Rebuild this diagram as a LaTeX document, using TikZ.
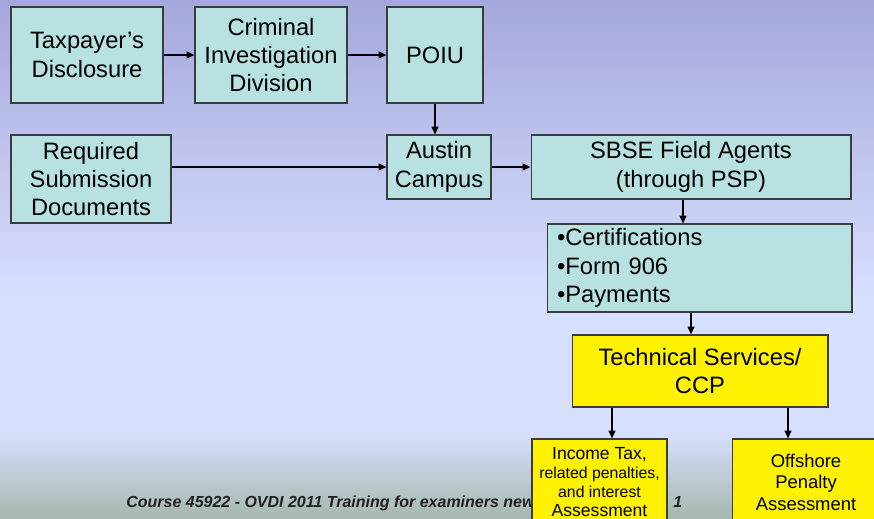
\documentclass[tikz,border=0pt]{standalone}
\usepackage{fontspec}
\setmainfont{Liberation Sans}
\usepackage{tikz}
\usetikzlibrary{arrows.meta}

\definecolor{boxteal}{HTML}{B8E2E2}
\definecolor{boxline}{HTML}{3C3C3C}
\definecolor{bgtop}{HTML}{A4A8DC}
\definecolor{bgmid}{HTML}{D8E0FF}
\definecolor{bgfoot}{HTML}{A6B8AE}

\tikzset{
    tealbox/.style={draw=boxline, line width=0.6pt, fill=boxteal, align=center,
        font=\fontsize{13.5}{16.2}\selectfont, inner sep=0pt},
    yellowbox/.style={draw=boxline, line width=0.6pt, fill=yellow, align=center, inner sep=0pt},
    flow/.style={draw=black, line width=0.6pt, -{Triangle[length=4.5pt,width=4pt]}}
}

\begin{document}
\begin{tikzpicture}[x=0.02cm, y=-0.02cm]
    \useasboundingbox (0,0) rectangle (874,518);
    % background of the slide
    \shade[top color=bgtop, bottom color=bgmid] (0,0) rectangle (874,300);
    \fill[bgmid] (0,300) rectangle (874,432);
    \shade[top color=bgmid, bottom color=bgfoot] (0,432) rectangle (874,518);

    % footer
    \node[anchor=base west, inner sep=0pt, text=black!88, font=\fontsize{9.1}{10}\selectfont\bfseries\itshape]
        (footer) at (126,507) {Course 45922 - OVDI 2011 Training for examiners new};
    \node[anchor=base west, inner sep=0pt, text=black!88, font=\fontsize{9.1}{10}\selectfont\bfseries\itshape]
        (pagenum) at (673,507) {1};

    % top row
    \node[tealbox, minimum width=3.04cm, minimum height=1.92cm] (taxpayer) at (87,55)
        {Taxpayer’s\\Disclosure};
    \node[tealbox, minimum width=3.04cm, minimum height=1.92cm] (cid) at (271,55)
        {Criminal\\Investigation\\Division};
    \node[tealbox, minimum width=1.92cm, minimum height=1.92cm] (poiu) at (435,55) {POIU};

    % second row
    \node[tealbox, minimum width=3.2cm, minimum height=1.76cm] (required) at (91,179)
        {Required\\Submission\\Documents};
    \node[tealbox, minimum width=2.08cm, minimum height=1.28cm] (austin) at (439,167)
        {Austin\\Campus};
    \node[tealbox, minimum width=6.4cm, minimum height=1.28cm] (sbse) at (691,167)
        {SBSE Field Agents\\(through PSP)};

    % lists and services
    \node[tealbox, align=left, text width=5.7cm, inner xsep=0.2cm, minimum height=1.76cm,
        font=\fontsize{13.5}{16.4}\selectfont] (cert) at (699.5,268)
        {•Certifications\\•Form 906\\•Payments};
    \node[yellowbox, minimum width=5.12cm, minimum height=1.44cm,
        font=\fontsize{13.5}{16.4}\selectfont] (tech) at (700,371)
        {Technical Services/\\CCP};

    % assessments
    \node[yellowbox, minimum width=2.7cm, minimum height=1.72cm, font=\fontsize{9}{10.8}\selectfont]
        (income) at (599.5,482)
        {{\fontsize{10}{10.8}\selectfont Income Tax,}\\related penalties,\\and interest\\{\fontsize{10}{10.8}\selectfont Assessment}};
    \node[yellowbox, minimum width=2.96cm, minimum height=1.72cm, font=\fontsize{10.5}{12.2}\selectfont]
        (offshore) at (806,482)
        {Offshore\\Penalty\\Assessment};

    % connectors
    \draw[flow] (taxpayer) -- (cid);
    \draw[flow] (cid) -- (poiu);
    \draw[flow] (poiu.south) -- (poiu.south |- austin.north);
    \draw[flow] (required.east |- austin.west) -- (austin.west);
    \draw[flow] (austin) -- (sbse);
    \draw[flow] ([xshift=-0.16cm]sbse.south) -- ([xshift=-0.16cm]sbse.south |- cert.north);
    \draw[flow] ([xshift=-0.17cm]cert.south) -- ([xshift=-0.17cm]cert.south |- tech.north);
    \draw[flow] ([xshift=0.25cm]income.north |- tech.south) -- ([xshift=0.25cm]income.north);
    \draw[flow] ([xshift=-0.36cm]offshore.north |- tech.south) -- ([xshift=-0.36cm]offshore.north);
\end{tikzpicture}
\end{document}
